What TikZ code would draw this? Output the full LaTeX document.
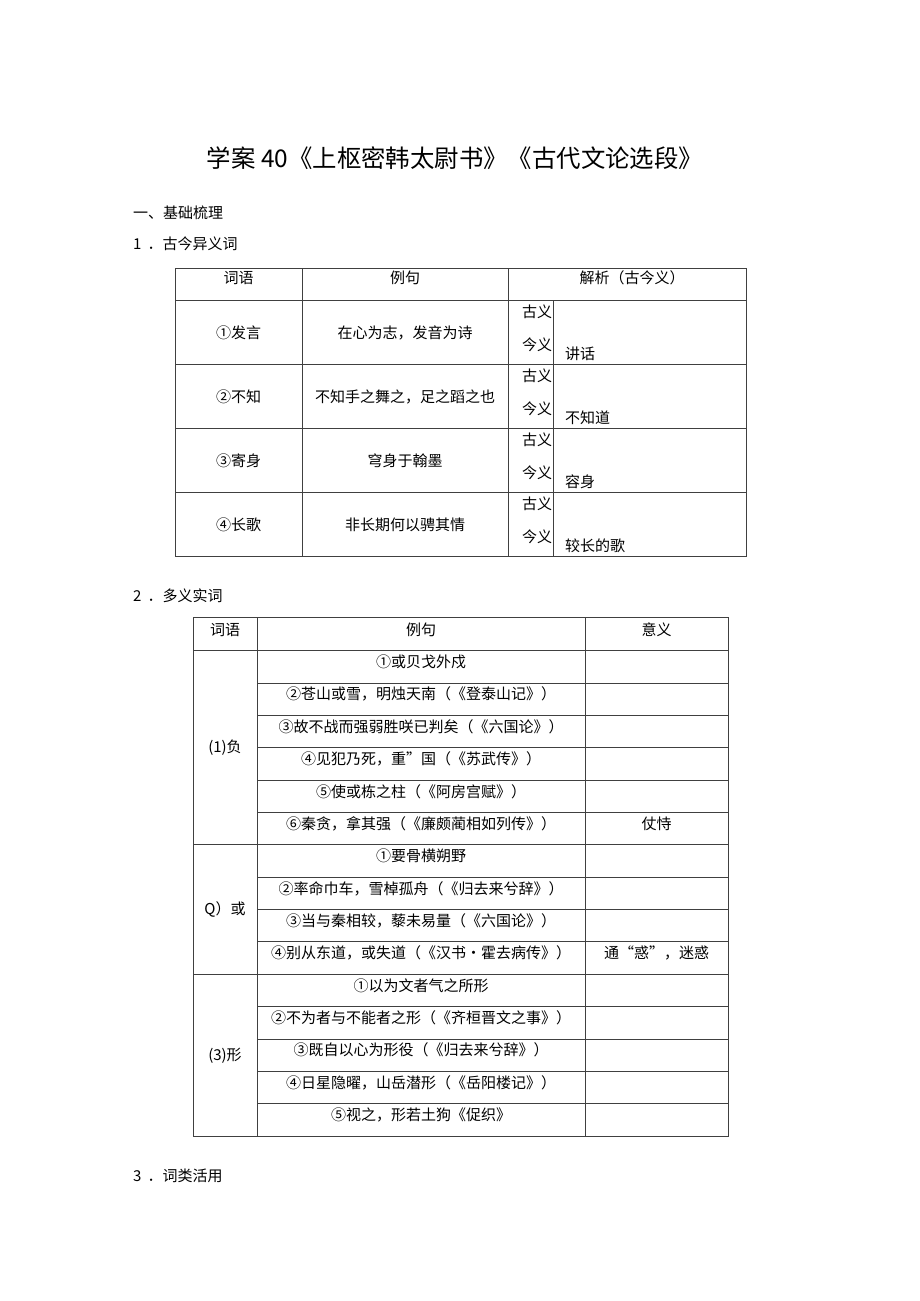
\documentclass[tikz,border=0pt]{standalone}
\usepackage{fontspec}
\setmainfont{Noto Sans CJK SC}
\usepackage{tikz}
\pgfmathsetmacro{\rowa}{64}
\pgfmathsetmacro{\rowb}{32.35}
\pgfmathsetmacro{\topb}{650.7}
\tikzset{
	tabline/.style={line width=0.8pt, black!75},
	cell/.style={font=\fontsize{15}{18}\selectfont, inner sep=0pt},
}

\begin{document}
\begin{tikzpicture}[x=1pt, y=-1pt]
		\useasboundingbox[fill=white] (0,0) rectangle (920,1301);
		\node[cell, font=\fontsize{24.4}{30}\selectfont] (title) at (455,158) {学案 40《上枢密韩太尉书》《古代文论选段》};
		\node[cell, anchor=west] (sec) at (133,213) {一、基础梳理};
		\node[cell, anchor=west] (part1) at (133,244) {1\hspace{6pt}．古今异义词};
		\node[cell, anchor=west] (part2) at (133,596) {2\hspace{6pt}．多义实词};
		\node[cell, anchor=west] (part3) at (133,1176) {3\hspace{6pt}．词类活用};

		% table 1
		\draw[tabline] (175,268) rectangle (746,556);
		\foreach \y in {300,364,428,492} \draw[tabline] (175,\y) -- (746,\y);
		\foreach \x in {302,508} \draw[tabline] (\x,268) -- (\x,556);
		\draw[tabline] (553,300) -- (553,556);
		\node[cell] (ha1) at (238.5,277.5) {词语};
		\node[cell] (ha2) at (405,277.5) {例句};
		\node[cell] (ha3) at (632,277.5) {解析（古今义）};
		\foreach \w/\s/\m [count=\i] in {①发言/在心为志，发音为诗/讲话, ②不知/不知手之舞之，足之蹈之也/不知道, ③寄身/穹身于翰墨/容身, ④长歌/非长期何以骋其情/较长的歌} {
			\pgfmathsetmacro{\rt}{300+\rowa*(\i-1)}
			\node[cell] (wa\i) at (238.5,\rt+32.5) {\w};
			\node[cell] (sa\i) at (405,\rt+32.5) {\s};
			\node[cell] (oa\i) at (537,\rt+11.5) {古义};
			\node[cell] (na\i) at (537,\rt+44.5) {今义};
			\node[cell, anchor=west] (ma\i) at (565,\rt+54) {\m};
		}

		% table 2
		\draw[tabline] (193,617.5) rectangle (728,1136);
		\draw[tabline] (193,\topb) -- (728,\topb);
		\foreach \k in {1,2,3,4,5,7,8,9,11,12,13,14} \draw[tabline] (257,\topb+\rowb*\k) -- (728,\topb+\rowb*\k);
		\foreach \k in {6,10} \draw[tabline] (193,\topb+\rowb*\k) -- (728,\topb+\rowb*\k);
		\foreach \x in {257,585} \draw[tabline] (\x,617.5) -- (\x,1136);
		\node[cell] (hb1) at (225,629.5) {词语};
		\node[cell] (hb2) at (421,629.5) {例句};
		\node[cell] (hb3) at (656.5,629.5) {意义};
		\foreach \s [count=\i] in {①或贝戈外戍, ②苍山或雪，明烛天南（《登泰山记》）, ③故不战而强弱胜咲已判矣（《六国论》）, ④见犯乃死，重”国（《苏武传》）, ⑤使或栋之柱（《阿房宫赋》）, ⑥秦贪，拿其强（《廉颇蔺相如列传》）, ①要骨横朔野, ②率命巾车，雪棹孤舟（《归去来兮辞》）, ③当与秦相较，藜未易量（《六国论》）, ④别从东道，或失道（《汉书·霍去病传》）, ①以为文者气之所形, ②不为者与不能者之形（《齐桓晋文之事》）, ③既自以心为形役（《归去来兮辞》）, ④日星隐曜，山岳潜形（《岳阳楼记》）, ⑤视之，形若土狗《促织》}
			\node[cell] (sb\i) at (421,\topb+\rowb*\i-\rowb+11.3) {\s};
		\node[cell] (gb1) at (225,747.7) {(1)负};
		\node[cell] (gb2) at (225,909.5) {Q）或};
		\node[cell] (gb3) at (225,1055.5) {(3)形};
		\node[cell] (mb6) at (656.5,\topb+\rowb*5+11.3) {仗恃};
		\node[cell] (mb10) at (656.5,\topb+\rowb*9+11.3) {通“惑”，迷惑};

	\end{tikzpicture}
\end{document}
